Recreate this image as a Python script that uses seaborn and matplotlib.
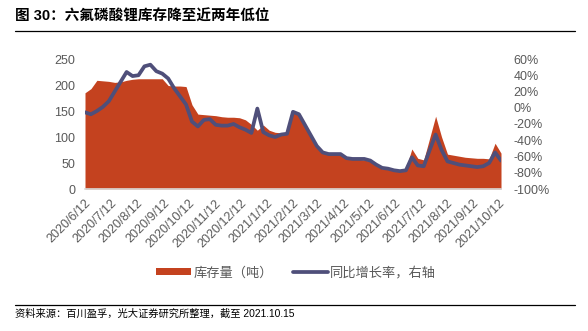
import matplotlib
matplotlib.use("Agg")
import matplotlib.pyplot as plt
from matplotlib.lines import Line2D
from matplotlib.patches import Patch
import seaborn as sns
import pandas as pd

# ---------------- data ----------------
start_date = "2020-06-12"
end_date = "2021-10-15"
inventory = [185, 193, 209, 208, 207, 205, 206, 209, 211, 212,
             212, 212, 212, 212, 199, 198, 198, 197, 162, 144,
             143, 142, 141, 139, 138, 138, 137, 133, 124, 113,
             123, 113, 109, 108, 109, 148, 143, 125, 105, 82,
             69, 67, 67, 66, 57, 57, 57, 56, 53, 45,
             39, 38, 36, 37, 40, 77, 59, 56, 98, 140,
             100, 67, 65, 63, 61, 60, 59, 59, 58, 88,
             69]
yoy = [-5.6, -8, -4, 1, 8, 20, 32, 44, 39, 40,
       51, 53, 45, 42, 36, 24, 14, 4, -17, -23,
       -15, -14, -21, -22, -22, -20, -24, -27, -31, -1,
       -30, -34, -36, -33, -32, -5, -8, -21, -34, -47,
       -55, -57, -57, -57, -62, -63, -63, -63, -65, -70,
       -74, -75, -77, -78, -77, -61, -71, -72, -52, -33,
       -52, -66, -68, -70, -71, -72, -73, -72, -68, -55,
       -65]
tick_dates = ["2020-06-12", "2020-07-12", "2020-08-12", "2020-09-12", "2020-10-12",
              "2020-11-12", "2020-12-12", "2021-01-12", "2021-02-12", "2021-03-12",
              "2021-04-12", "2021-05-12", "2021-06-12", "2021-07-12", "2021-08-12",
              "2021-09-12", "2021-10-12"]
tick_labels = ["2020/6/12", "2020/7/12", "2020/8/12", "2020/9/12", "2020/10/12",
               "2020/11/12", "2020/12/12", "2021/1/12", "2021/2/12", "2021/3/12",
               "2021/4/12", "2021/5/12", "2021/6/12", "2021/7/12", "2021/8/12",
               "2021/9/12", "2021/10/12"]
left_ticks = [0, 50, 100, 150, 200, 250]
right_ticks = [-100, -80, -60, -40, -20, 0, 20, 40, 60]

title = "图 30：六氟磷酸锂库存降至近两年低位"
source = "资料来源：百川盈孚，光大证券研究所整理，截至 2021.10.15"
label_inv = "库存量（吨）"
label_yoy = "同比增长率，右轴"

dates = pd.date_range(start_date, end_date, freq="7D")
df = pd.DataFrame({"date": dates, "inventory": inventory, "yoy": yoy})

# ---------------- style ----------------
sns.set_theme(style="white")
plt.rcParams["font.family"] = ["Liberation Sans", "Noto Sans CJK SC", "DejaVu Sans"]

RED = "#C4421F"
LINE = "#4F4F7A"
GRAY = "#595959"

fig = plt.figure(figsize=(5.88, 3.31), dpi=100)
ax = fig.add_axes([85 / 588, 1 - 189 / 331, (501 - 85) / 588, (189 - 59) / 331])
ax2 = ax.twinx()

ax.fill_between(df["date"], 0, df["inventory"], color=RED, linewidth=0, zorder=1)
sns.lineplot(data=df, x="date", y="yoy", ax=ax2, color=LINE, linewidth=2.7, zorder=3)

ax.set_ylim(0, 250)
ax.set_yticks(left_ticks)
ax.set_yticklabels([str(v) for v in left_ticks])
ax2.set_ylim(-100, 60)
ax2.set_yticks(right_ticks)
ax2.set_yticklabels([f"{v}%" for v in right_ticks])

ax.set_xlim(pd.Timestamp(start_date), pd.Timestamp(end_date))
ax.set_xticks(pd.to_datetime(tick_dates))
ax.set_xticklabels(tick_labels, rotation=45, ha="right", rotation_mode="anchor")
for a in (ax, ax2):
    a.set_xlabel("")
    a.set_ylabel("")
    a.grid(False)
    for s in a.spines.values():
        s.set_visible(False)
ax.spines["bottom"].set_visible(True)
ax.spines["bottom"].set_color("#D9D9D9")
ax.spines["bottom"].set_linewidth(1.2)

ax.tick_params(axis="x", colors="#D9D9D9", length=3, width=1, pad=3, labelsize=9,
               labelcolor=GRAY, direction="out")
ax.tick_params(axis="y", length=0, pad=7, labelsize=9, labelcolor=GRAY)
ax2.tick_params(axis="y", length=0, pad=9, labelsize=9, labelcolor=GRAY)
ax2.set_zorder(ax.get_zorder() + 1)
ax2.patch.set_visible(False)

# legend
handles = [Patch(facecolor=RED, edgecolor="none"),
           Line2D([0], [0], color=LINE, linewidth=2.7)]
fig.legend(handles, [label_inv, label_yoy], loc="center", bbox_to_anchor=(296 / 588, 1 - 273 / 331),
           ncol=2, frameon=False, fontsize=9.5, handlelength=2.7, handleheight=0.45,
           handletextpad=0.15, columnspacing=1.5, labelcolor=GRAY)

# title & source
fig.text(15 / 588, 1 - 17 / 331, title, fontsize=10.5, fontweight="bold", color="black",
         ha="left", va="center")
fig.add_artist(Line2D([15 / 588, 575 / 588], [1 - 31 / 331, 1 - 31 / 331], color="black", linewidth=0.9))
fig.add_artist(Line2D([15 / 588, 575 / 588], [1 - 305 / 331, 1 - 305 / 331], color="black", linewidth=0.9))
fig.text(15 / 588, 1 - 314 / 331, source, fontsize=7.4, color="black", ha="left", va="center")

fig.savefig("out.png", dpi=100)
